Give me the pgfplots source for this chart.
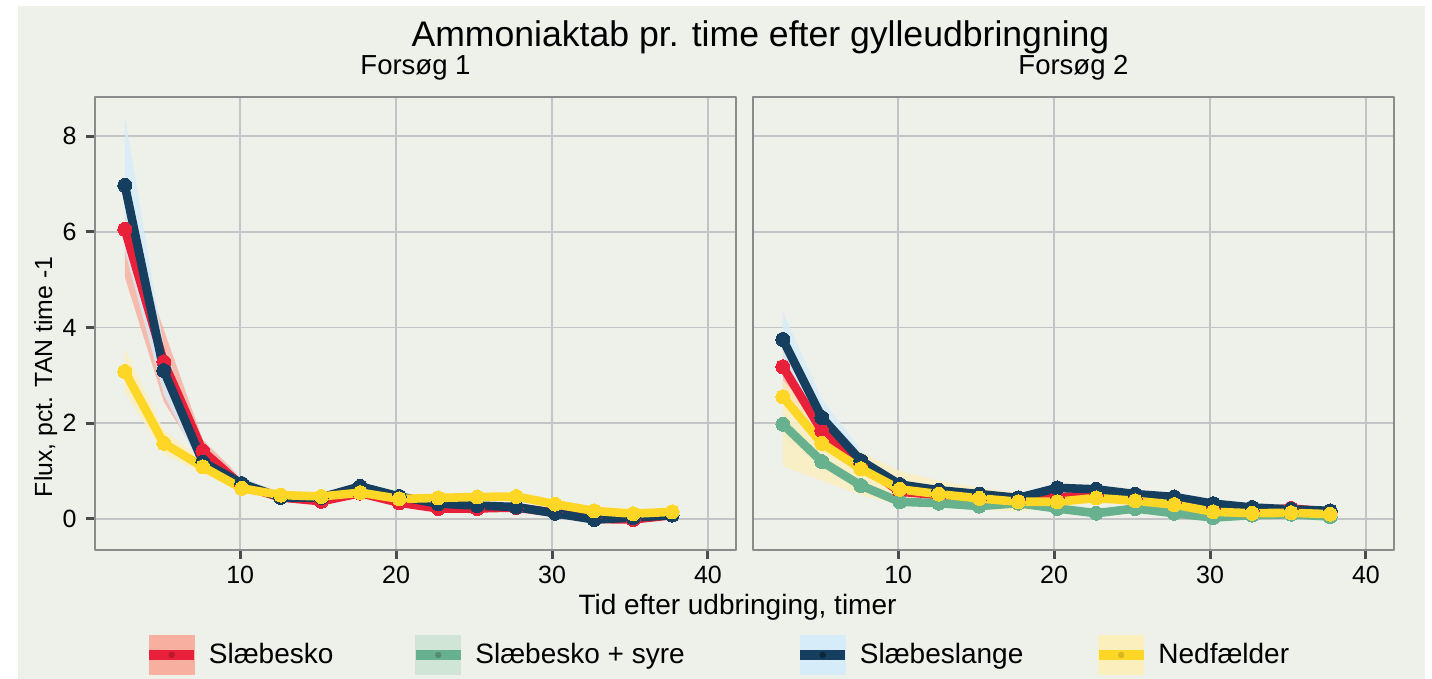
\documentclass[border=0pt]{standalone}
\usepackage{fontspec}
\setmainfont{Liberation Sans}
\usepackage{pgfplots}
\pgfplotsset{compat=1.18}
\usepackage{pgfplotstable}

\definecolor{bgcol}{HTML}{EEF0EA}
\definecolor{gridcol}{HTML}{C3C4C6}
\definecolor{framecol}{HTML}{8A8B8A}
\definecolor{tickcol}{HTML}{4A4B4D}
\definecolor{redc}{HTML}{E8203A}
\definecolor{greenc}{HTML}{68B18E}
\definecolor{navyc}{HTML}{163F5F}
\definecolor{yellowc}{HTML}{FDD626}
\definecolor{redl}{HTML}{F7B0A0}
\definecolor{greenl}{HTML}{D1E5D7}
\definecolor{bluel}{HTML}{D6ECF8}
\definecolor{yellowl}{HTML}{FCEFBE}

% Forsoeg 1: middelvaerdier
\pgfplotstableread{
x     r     b     y
2.6   6.05  6.97  3.08
5.1   3.28  3.10  1.58
7.6   1.42  1.19  1.09
10.1  0.70  0.74  0.64
12.6  0.45  0.45  0.50
15.2  0.37  0.45  0.47
17.7  0.54  0.68  0.55
20.2  0.34  0.47  0.42
22.7  0.22  0.32  0.44
25.2  0.22  0.28  0.46
27.7  0.24  0.25  0.47
30.2  0.13  0.12  0.31
32.7  0.00  -0.01 0.17
35.2  -0.01 0.03  0.11
37.7  0.08  0.08  0.15
}\forsogA

% Forsoeg 2: middelvaerdier
\pgfplotstableread{
x     r     g     b     y
2.6   3.18  1.98  3.75  2.55
5.1   1.84  1.20  2.12  1.58
7.6   1.15  0.70  1.22  1.05
10.1  0.57  0.36  0.72  0.62
12.6  0.50  0.33  0.60  0.52
15.2  0.42  0.27  0.52  0.43
17.7  0.37  0.33  0.44  0.36
20.2  0.45  0.22  0.65  0.36
22.7  0.50  0.12  0.62  0.44
25.2  0.42  0.22  0.52  0.38
27.7  0.35  0.12  0.46  0.30
30.2  0.22  0.03  0.32  0.15
32.7  0.18  0.08  0.24  0.12
35.2  0.22  0.10  0.20  0.13
37.7  0.15  0.05  0.17  0.10
}\forsogB

\pgfplotsset{
  panel/.style={
    scale only axis,
    width=320.5pt, height=226.5pt,
    xmin=0.685, xmax=41.8,
    ymin=-0.6475, ymax=8.815,
    xtick={10,20,30,40},
    ytick={0,2,4,6,8},
    grid=major,
    major grid style={color=gridcol, line width=0.8pt},
    axis line style={color=framecol, line width=1pt},
    tick align=outside,
    xtick pos=bottom, ytick pos=left,
    major tick length=4.5pt,
    tick style={color=tickcol, line width=1.5pt},
    /pgf/number format/assume math mode=true,
    tick label style={font=\fontsize{12.5}{14}\selectfont, inner sep=0pt},
    xticklabel style={yshift=-3.5pt},
    yticklabel style={xshift=-4.5pt},
    title style={font=\fontsize{13.75}{16}\selectfont, anchor=base, at={(0.5,1)}, yshift=5pt},
    line join=round,
  },
  serie/.style={line width=4.3pt, color=#1, mark=*, mark size=3.5pt,
    mark options={fill=#1, draw=#1, line width=0pt}, forget plot},
  baand/.style={fill=#1, fill opacity=0.8, draw=none, forget plot},
}

\begin{document}
\begin{tikzpicture}
\fill[white] (0,0) rectangle (716pt,339.5pt);
\fill[bgcol] (9pt,0) rectangle (712.5pt,336.5pt);

\begin{axis}[panel, at={(47.5pt,64.5pt)}, anchor=south west,
    title={Forsøg 1},
    legend columns=4,
    legend cell align=left,
    legend style={at={(0.0765,-0.2318)}, anchor=west, draw=none, fill=none,
      inner sep=0pt, font=\fontsize{14}{16}\selectfont,
      nodes={inner sep=0pt},
      /tikz/every odd column/.append style={column sep=5pt},
      /tikz/every even column/.append style={column sep=0pt}},
  ]
% baand (konfidensinterval): oevre graense frem, nedre tilbage
\addplot[baand=redl] coordinates {
  (2.6,6.35) (5.1,3.95) (7.6,1.65) (10.1,0.85) (12.6,0.55) (15.2,0.45) (17.7,0.62) (20.2,0.42)
  (22.7,0.30) (25.2,0.29) (27.7,0.31) (30.2,0.19) (32.7,0.05) (35.2,0.04) (37.7,0.13)
  (37.7,0.03) (35.2,-0.06) (32.7,-0.05) (30.2,0.07) (27.7,0.17) (25.2,0.15) (22.7,0.15)
  (20.2,0.27) (17.7,0.47) (15.2,0.30) (12.6,0.38) (10.1,0.58) (7.6,1.15) (5.1,2.45) (2.6,5.05)
} -- cycle;
\addplot[baand=bluel] coordinates {
  (2.6,8.40) (5.1,3.60) (7.6,1.45) (10.1,0.88) (12.6,0.53) (15.2,0.52) (17.7,0.75) (20.2,0.54)
  (22.7,0.39) (25.2,0.35) (27.7,0.31) (30.2,0.18) (32.7,0.05) (35.2,0.08) (37.7,0.13)
  (37.7,0.03) (35.2,-0.02) (32.7,-0.06) (30.2,0.06) (27.7,0.19) (25.2,0.22) (22.7,0.25)
  (20.2,0.40) (17.7,0.60) (15.2,0.38) (12.6,0.38) (10.1,0.58) (7.6,1.00) (5.1,2.60) (2.6,5.60)
} -- cycle;
\addplot[baand=yellowl] coordinates {
  (2.6,3.55) (5.1,1.85) (7.6,1.25) (10.1,0.74) (12.6,0.56) (15.2,0.53) (17.7,0.60) (20.2,0.47)
  (22.7,0.49) (25.2,0.51) (27.7,0.52) (30.2,0.36) (32.7,0.22) (35.2,0.16) (37.7,0.20)
  (37.7,0.10) (35.2,0.06) (32.7,0.12) (30.2,0.26) (27.7,0.42) (25.2,0.41) (22.7,0.39)
  (20.2,0.37) (17.7,0.50) (15.2,0.42) (12.6,0.45) (10.1,0.55) (7.6,0.95) (5.1,1.35) (2.6,2.65)
} -- cycle;
\addplot[serie=redc] table[x=x, y=r]{\forsogA};
\addplot[serie=navyc] table[x=x, y=b]{\forsogA};
\addplot[serie=yellowc] table[x=x, y=y]{\forsogA};

\addlegendimage{legend image code/.code={
  \fill[redl] (0pt,-9.75pt) rectangle (22.5pt,9.75pt);
  \draw[redc, line width=4.75pt] (0pt,0pt) -- (22.5pt,0pt);
  \fill[redc!80!black] (11.25pt,0pt) circle (1.4pt);}}
\addlegendentry{\makebox[101pt][l]{Slæbesko}}
\addlegendimage{legend image code/.code={
  \fill[greenl] (0pt,-9.75pt) rectangle (22.5pt,9.75pt);
  \draw[greenc, line width=4.75pt] (0pt,0pt) -- (22.5pt,0pt);
  \fill[greenc!80!black] (11.25pt,0pt) circle (1.4pt);}}
\addlegendentry{\makebox[160pt][l]{Slæbesko + syre}}
\addlegendimage{legend image code/.code={
  \fill[bluel] (0pt,-9.75pt) rectangle (22.5pt,9.75pt);
  \draw[navyc, line width=4.75pt] (0pt,0pt) -- (22.5pt,0pt);
  \fill[navyc!60!black] (11.25pt,0pt) circle (1.4pt);}}
\addlegendentry{\makebox[117pt][l]{Slæbeslange}}
\addlegendimage{legend image code/.code={
  \fill[yellowl] (0pt,-9.75pt) rectangle (22.5pt,9.75pt);
  \draw[yellowc, line width=4.75pt] (0pt,0pt) -- (22.5pt,0pt);
  \fill[yellowc!85!black] (11.25pt,0pt) circle (1.4pt);}}
\addlegendentry{Nedfælder}
\end{axis}

\begin{axis}[panel, at={(376.5pt,64.5pt)}, anchor=south west,
    title={Forsøg 2},
    yticklabels={}, ytick style={draw=none},
  ]
\addplot[baand=redl] coordinates {
  (2.6,3.70) (5.1,2.10) (7.6,1.30) (10.1,0.68) (12.6,0.58) (15.2,0.50) (17.7,0.44) (20.2,0.52)
  (22.7,0.58) (25.2,0.49) (27.7,0.42) (30.2,0.28) (32.7,0.24) (35.2,0.28) (37.7,0.20)
  (37.7,0.10) (35.2,0.16) (32.7,0.12) (30.2,0.16) (27.7,0.28) (25.2,0.35) (22.7,0.42)
  (20.2,0.38) (17.7,0.30) (15.2,0.35) (12.6,0.43) (10.1,0.48) (7.6,1.00) (5.1,1.60) (2.6,2.60)
} -- cycle;
\addplot[baand=greenl] coordinates {
  (2.6,2.20) (5.1,1.35) (7.6,0.80) (10.1,0.43) (12.6,0.39) (15.2,0.33) (17.7,0.39) (20.2,0.28)
  (22.7,0.18) (25.2,0.28) (27.7,0.18) (30.2,0.09) (32.7,0.14) (35.2,0.16) (37.7,0.10)
  (37.7,0.00) (35.2,0.04) (32.7,0.02) (30.2,-0.03) (27.7,0.06) (25.2,0.16) (22.7,0.06)
  (20.2,0.16) (17.7,0.27) (15.2,0.21) (12.6,0.27) (10.1,0.30) (7.6,0.60) (5.1,1.05) (2.6,1.75)
} -- cycle;
\addplot[baand=bluel] coordinates {
  (2.6,4.32) (5.1,2.50) (7.6,1.45) (10.1,0.85) (12.6,0.68) (15.2,0.60) (17.7,0.51) (20.2,0.73)
  (22.7,0.70) (25.2,0.59) (27.7,0.53) (30.2,0.38) (32.7,0.30) (35.2,0.26) (37.7,0.23)
  (37.7,0.11) (35.2,0.14) (32.7,0.18) (30.2,0.26) (27.7,0.39) (25.2,0.45) (22.7,0.54)
  (20.2,0.57) (17.7,0.37) (15.2,0.45) (12.6,0.52) (10.1,0.62) (7.6,1.00) (5.1,1.80) (2.6,3.20)
} -- cycle;
\addplot[baand=yellowl] coordinates {
  (2.6,2.90) (5.1,2.00) (7.6,1.40) (10.1,1.00) (12.6,0.80) (15.2,0.65) (17.7,0.55) (20.2,0.46)
  (22.7,0.54) (25.2,0.48) (27.7,0.40) (30.2,0.22) (32.7,0.18) (35.2,0.19) (37.7,0.15)
  (37.7,0.05) (35.2,0.07) (32.7,0.06) (30.2,0.08) (27.7,0.20) (25.2,0.28) (22.7,0.34)
  (20.2,0.26) (17.7,0.15) (15.2,0.20) (12.6,0.25) (10.1,0.30) (7.6,0.50) (5.1,0.80) (2.6,1.10)
} -- cycle;
\addplot[serie=redc] table[x=x, y=r]{\forsogB};
\addplot[serie=greenc] table[x=x, y=g]{\forsogB};
\addplot[serie=navyc] table[x=x, y=b]{\forsogB};
\addplot[serie=yellowc] table[x=x, y=y]{\forsogB};
\end{axis}

\node[anchor=base, font=\fontsize{17.8}{20}\selectfont] at (380.25pt,316pt)
  {Ammoniaktab pr. time efter gylleudbringning};
\node[anchor=base, font=\fontsize{14}{16}\selectfont] at (368.75pt,32pt)
  {Tid efter udbringing, timer};
\node[rotate=90, anchor=base, font=\fontsize{12.4}{14}\selectfont] at (26pt,151pt)
  {Flux, pct. TAN time -1};
\end{tikzpicture}
\end{document}
